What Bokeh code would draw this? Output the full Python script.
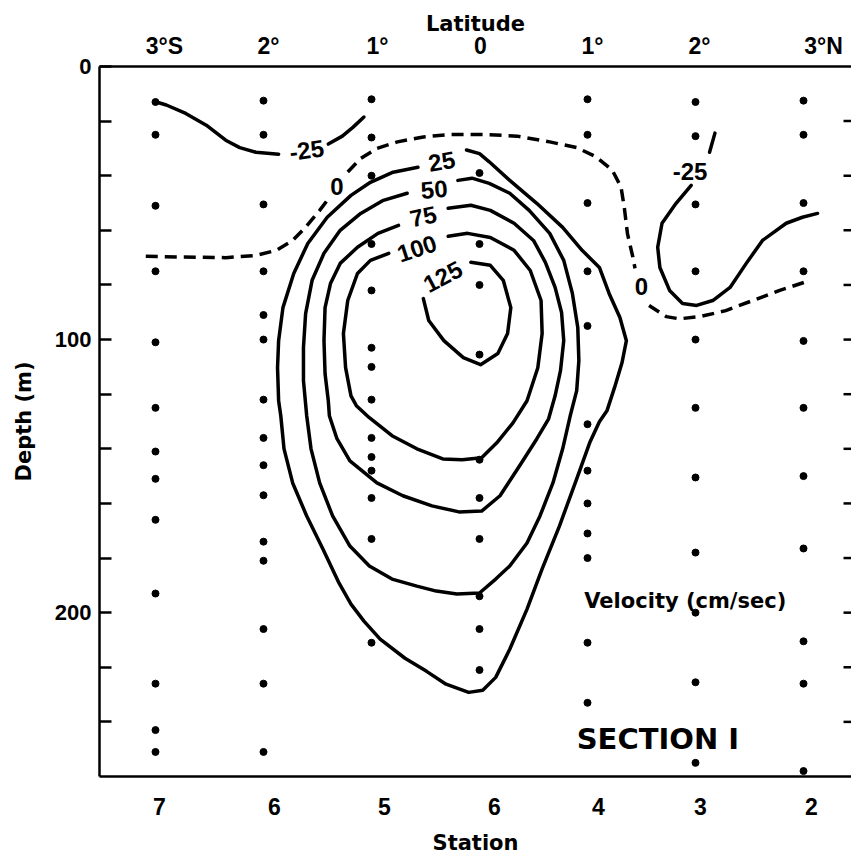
from bokeh.plotting import figure
from bokeh.models import Range1d, LinearAxis, FixedTicker, Label
from bokeh.embed import file_html
from bokeh.resources import INLINE
from bokeh.core.properties import value

FONT = "DejaVu Sans"
NUM_FONT = "Liberation Sans"
INK = "#000000"

# ---- stations of Section I (latitude in degrees, negative = south) ----
station_lat = [-3, -2, -1, 0, 1, 2, 3]
station_names = ["7", "6", "5", "6", "4", "3", "2"]
station_label_pos = [-2.963, -1.898, -0.880, 0.139, 1.102, 2.046, 3.074]

lat_labels = ["3°S", "2°", "1°", "0", "1°", "2°", "3°N"]
lat_label_pos = [-2.917, -1.954, -0.944, 0.009, 1.046, 2.037, 3.185]

depth_ticks = list(range(0, 260, 20))
depth_labels = {0: "0", 100: "100", 200: "200"}

# sampling depths (m) at each station, west to east
depths_st7 = [13, 25, 51, 75, 101, 125, 141, 151, 166, 193, 226, 243, 251]
depths_st6s = [12.5, 25, 50.5, 75, 91, 100, 122, 136, 146, 157, 174, 181, 206, 226, 251]
depths_st5 = [12, 26, 40, 65, 82, 103, 110, 122, 136, 143, 148, 158, 173, 211]
depths_st6e = [39, 65, 80, 105.5, 144, 158, 173, 194, 206, 221]
depths_st4 = [12, 25, 50, 75, 95, 131, 148, 160, 171, 180, 211, 233]
depths_st3 = [13, 25.5, 50.5, 75, 100, 125, 150.5, 178, 200, 225.5, 255]
depths_st2 = [12.5, 25, 50, 75, 100.5, 125, 150, 176.5, 210.5, 226, 258]
station_depths = [depths_st7, depths_st6s, depths_st5, depths_st6e,
                  depths_st4, depths_st3, depths_st2]

# ---- velocity isolines (cm/sec): (latitude, depth) ----
vel_m25_west_a = [(-3.00, 12.9), (-2.90, 14.1), (-2.72, 17.2), (-2.53, 21.5),
                  (-2.35, 27.0), (-2.22, 29.7), (-2.07, 31.4), (-1.86, 32.1)]
vel_m25_west_b = [(-1.40, 28.4), (-1.27, 25.5), (-1.17, 22.2), (-1.07, 18.5)]

vel_m25_east_a = [(2.18, 24.4), (2.13, 31.4)]
vel_m25_east_b = [(1.96, 43.5), (1.82, 50.1), (1.69, 57.4), (1.65, 66.2),
                  (1.67, 73.6), (1.76, 82.0), (1.88, 86.8), (2.01, 87.5),
                  (2.16, 85.7), (2.32, 80.9), (2.47, 72.1), (2.62, 63.7),
                  (2.84, 57.4), (2.99, 55.2), (3.13, 53.8)]

vel_0_a = [(-3.09, 69.5), (-2.75, 69.8), (-2.35, 70.0), (-2.07, 69.2),
           (-1.88, 67.3), (-1.73, 63.7), (-1.61, 58.8), (-1.48, 52.7),
           (-1.41, 49.0)]
vel_0_b = [(-1.22, 38.6), (-1.10, 33.7), (-0.95, 30.0), (-0.76, 27.6),
           (-0.52, 25.8), (-0.27, 24.9), (0.04, 24.9), (0.35, 25.5),
           (0.65, 27.6), (0.90, 29.7), (1.08, 33.1), (1.23, 38.0),
           (1.31, 44.1), (1.34, 51.4), (1.37, 61.2), (1.42, 69.8),
           (1.44, 73.9)]
vel_0_c = [(1.57, 87.5), (1.73, 91.6), (1.85, 92.4), (2.04, 91.6),
           (2.28, 89.4), (2.53, 85.7), (2.78, 82.0), (3.01, 79.0)]

vel_25 = [(-0.12, 30.6), (0.00, 31.9), (0.09, 34.9), (0.28, 41.7), (0.53, 50.1),
          (0.77, 58.9), (0.95, 67.3), (1.11, 73.6), (1.20, 83.1), (1.30, 91.9),
          (1.36, 100.4), (1.32, 108.4), (1.25, 117.6), (1.18, 126.1),
          (1.11, 130.1), (1.02, 137.8), (0.90, 151.0), (0.74, 168.3),
          (0.58, 184.0), (0.44, 198.7), (0.28, 213.4), (0.15, 223.7),
          (0.03, 228.4), (-0.10, 229.2), (-0.31, 226.2), (-0.49, 221.5),
          (-0.69, 216.7), (-0.92, 209.7), (-1.07, 203.1), (-1.19, 196.9),
          (-1.30, 189.2), (-1.45, 176.7), (-1.60, 164.6), (-1.73, 152.5),
          (-1.81, 140.0), (-1.84, 127.9), (-1.86, 122.4), (-1.87, 110.3),
          (-1.86, 100.4), (-1.82, 88.3), (-1.72, 75.8), (-1.59, 64.8),
          (-1.41, 55.2), (-1.19, 47.2), (-1.01, 42.4), (-0.80, 38.7),
          (-0.57, 36.9)]

vel_50 = [(-0.20, 41.7), (-0.07, 40.9), (0.09, 42.8), (0.28, 46.4), (0.46, 52.7),
          (0.65, 61.1), (0.78, 71.0), (0.86, 83.1), (0.91, 95.6), (0.92, 107.7),
          (0.90, 118.7), (0.84, 127.9), (0.77, 140.0), (0.68, 152.5),
          (0.56, 164.6), (0.44, 174.5), (0.28, 182.9), (0.15, 187.7),
          (0.00, 192.8), (-0.21, 193.2), (-0.40, 192.1), (-0.58, 190.3),
          (-0.81, 187.7), (-1.02, 182.9), (-1.20, 175.6), (-1.36, 164.6),
          (-1.48, 152.5), (-1.56, 140.0), (-1.60, 127.9), (-1.63, 115.0),
          (-1.63, 102.9), (-1.61, 90.5), (-1.55, 78.3), (-1.44, 68.4),
          (-1.29, 60.0), (-1.10, 53.8), (-0.89, 49.0), (-0.67, 46.4)]

vel_75 = [(-0.29, 51.9), (-0.08, 50.8), (0.10, 52.7), (0.32, 57.4), (0.50, 63.7),
          (0.61, 71.7), (0.70, 80.9), (0.76, 90.1), (0.78, 100.4), (0.75, 111.4),
          (0.70, 120.6), (0.64, 129.0), (0.53, 136.4), (0.37, 146.3),
          (0.19, 157.2), (0.02, 162.8), (-0.19, 163.1), (-0.44, 160.9),
          (-0.71, 157.2), (-0.95, 152.5), (-1.20, 144.4), (-1.32, 136.3),
          (-1.39, 127.9), (-1.40, 122.4), (-1.43, 112.5), (-1.44, 100.4),
          (-1.43, 88.3), (-1.38, 79.5), (-1.29, 72.1), (-1.13, 66.2),
          (-0.94, 61.1), (-0.75, 58.2)]

vel_100 = [(-0.29, 62.2), (-0.11, 61.1), (0.10, 62.6), (0.32, 67.3), (0.47, 74.7),
           (0.57, 85.7), (0.58, 97.8), (0.54, 110.3), (0.44, 122.4), (0.31, 130.5),
           (0.16, 137.8), (0.02, 143.3), (-0.16, 144.0), (-0.34, 143.7),
           (-0.58, 140.0), (-0.81, 135.2), (-1.02, 128.6), (-1.14, 124.2),
           (-1.19, 120.6), (-1.24, 110.3), (-1.26, 97.8), (-1.22, 85.7),
           (-1.13, 75.8), (-1.01, 71.0), (-0.84, 68.4)]

vel_125 = [(-0.08, 71.7), (0.10, 72.8), (0.22, 78.3), (0.29, 88.3), (0.26, 97.8),
           (0.17, 105.1), (0.01, 109.2), (-0.15, 106.6), (-0.33, 100.4),
           (-0.47, 93.0), (-0.52, 85.0)]

solid_lines = [vel_m25_west_a, vel_m25_west_b, vel_m25_east_a, vel_m25_east_b,
               vel_25, vel_50, vel_75, vel_100, vel_125]
zero_lines = [vel_0_a, vel_0_b, vel_0_c]

# isoline labels
iso_text = ["-25", "0", "25", "50", "75", "100", "125", "-25", "0"]
iso_lat = [-1.60, -1.32, -0.35, -0.42, -0.52, -0.58, -0.34, 1.95, 1.50]
iso_depth = [30.6, 43.9, 34.7, 45.0, 54.9, 66.6, 76.9, 38.3, 80.6]
iso_angle = [8, 0, 10, 5, 12, 18, 28, 0, 0]

x_range = Range1d(-3.5185, 3.4444)
p = figure(width=851, height=859, x_range=x_range, y_range=Range1d(260, 0),
           output_backend="svg", toolbar_location=None,
           min_border_left=99, min_border_right=0,
           min_border_top=66, min_border_bottom=83)
p.outline_line_color = None
p.xgrid.visible = False
p.ygrid.visible = False
p.background_fill_color = "white"
p.border_fill_color = "white"

# bottom axis: station numbers
xb = p.xaxis[0]
xb.ticker = FixedTicker(ticks=station_label_pos)
xb.major_label_overrides = {k: v for k, v in zip(station_label_pos, station_names)}
xb.axis_label = "Station"

# top axis: latitude
xt = LinearAxis(ticker=FixedTicker(ticks=lat_label_pos),
                major_label_overrides={k: v for k, v in zip(lat_label_pos, lat_labels)},
                axis_label="Latitude")
p.add_layout(xt, "above")

for ax in (xb, xt):
    ax.axis_line_width = 2.5
    ax.axis_line_color = INK
    ax.major_tick_line_color = None
    ax.minor_tick_line_color = None
    ax.major_label_text_font = NUM_FONT
    ax.major_label_text_font_style = "bold"
    ax.major_label_text_font_size = "23px"
    ax.major_label_text_color = INK
    ax.axis_label_text_font = FONT
    ax.axis_label_text_font_size = "21px"
    ax.axis_label_text_font_style = "bold"
    ax.axis_label_text_color = INK
xb.major_label_standoff = 15
xb.axis_label_standoff = 13
xt.major_label_standoff = 2
xt.axis_label_standoff = -6

# left axis: depth
yl = p.yaxis[0]
yl.ticker = FixedTicker(ticks=depth_ticks)
yl.major_label_overrides = {d: depth_labels.get(d, "") for d in depth_ticks}
yl.axis_label = "Depth (m)"
yl.axis_line_width = 2.5
yl.axis_line_color = INK
yl.major_tick_in = 12
yl.major_tick_out = 0
yl.major_tick_line_width = 2.5
yl.major_tick_line_color = INK
yl.minor_tick_line_color = None
yl.major_label_standoff = 8
yl.major_label_text_font = NUM_FONT
yl.major_label_text_font_style = "bold"
yl.major_label_text_font_size = "22px"
yl.major_label_text_color = INK
yl.axis_label_text_font = FONT
yl.axis_label_text_font_size = "21px"
yl.axis_label_text_font_style = "bold"
yl.axis_label_text_color = INK
yl.axis_label_standoff = 16

# short inward ticks along the eastern edge
east_ticks = depth_ticks[1:]
tick_len = 0.074
p.segment(x0=[x_range.end - tick_len] * len(east_ticks), y0=east_ticks,
          x1=[x_range.end] * len(east_ticks), y1=east_ticks,
          line_color=INK, line_width=2.5)

# sampling points
pts_x, pts_y = [], []
for lat, deps in zip(station_lat, station_depths):
    pts_x += [lat] * len(deps)
    pts_y += deps
p.scatter(pts_x, pts_y, size=7, color=INK)

# isolines
for line in solid_lines:
    p.line([q[0] for q in line], [q[1] for q in line], line_color=INK,
           line_width=3.5, line_join="round", line_cap="round")
for line in zero_lines:
    p.line([q[0] for q in line], [q[1] for q in line], line_color=INK,
           line_width=3.5, line_dash="12 7", line_join="round")

p.text(x=iso_lat, y=iso_depth, text=iso_text, angle=iso_angle, angle_units="deg",
       text_font=value(NUM_FONT), text_font_style="bold", text_font_size="24px",
       text_color=INK, text_align="center", text_baseline="middle")

p.add_layout(Label(x=0.97, y=195.6, text="Velocity (cm/sec)", text_font=FONT,
                   text_font_size="21px", text_font_style="bold", text_color=INK,
                   text_baseline="alphabetic", text_align="left"))
p.add_layout(Label(x=0.90, y=246.4, text="SECTION I", text_font=FONT,
                   text_font_size="29px", text_font_style="bold", text_color=INK,
                   text_baseline="alphabetic", text_align="left"))

open("out.html", "w").write(file_html(p, INLINE))
